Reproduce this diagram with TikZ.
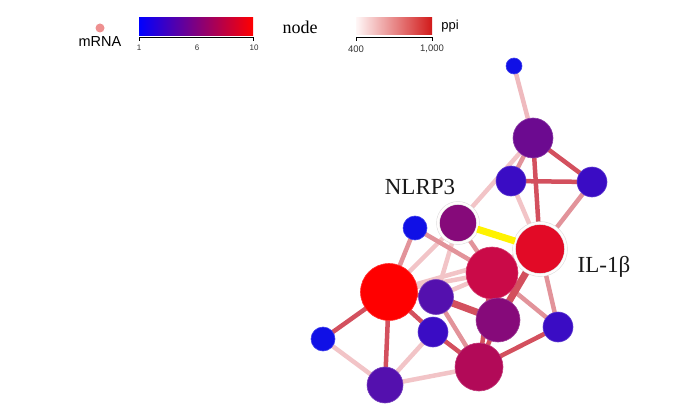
\documentclass[tikz,border=0pt]{standalone}
\usepackage{fontspec}
\setmainfont{Liberation Serif}
\setsansfont{Liberation Sans}
\usetikzlibrary{backgrounds}
\definecolor{eLight}{HTML}{F2C4C7}
\definecolor{eMid}{HTML}{E2939A}
\definecolor{eRed}{HTML}{D3505E}
\definecolor{eYel}{HTML}{FFF200}
\definecolor{cBlue}{HTML}{1010E6}
\definecolor{cBlueP}{HTML}{3A0CC4}
\definecolor{cIndigo}{HTML}{5410AE}
\definecolor{cPurple}{HTML}{6C0A90}
\definecolor{cPlum}{HTML}{860A7A}
\definecolor{cRaspb}{HTML}{B20A58}
\definecolor{cCrim}{HTML}{CA0A48}
\definecolor{cRedA}{HTML}{E20A26}
\definecolor{cRed}{HTML}{FF0000}
\definecolor{mrna}{HTML}{EE9090}
\tikzset{
  gn/.style={circle, inner sep=0pt, draw=#1!80!white, line width=0.6pt, fill=#1},
  halo/.style={double=white!96!pink, draw=black!15, double distance=2.4pt, line width=0.5pt},
  eL/.style={draw=eLight, line width=4.5pt},
  eM/.style={draw=eMid, line width=4.5pt},
  eR/.style={draw=eRed, line width=4.5pt},
  eT/.style={draw=eRed, line width=7pt},
  eY/.style={draw=eYel, line width=7pt},
  tick/.style={font=\sffamily\fontsize{8}{8}\selectfont, text=black!80},
  tickb/.style={font=\sffamily\fontsize{9.5}{9.5}\selectfont, text=black!80},
  lbl/.style={font=\fontsize{23}{23}\selectfont, text=black!90}
}
\begin{document}
\begin{tikzpicture}[x=1pt,y=-1pt]
\useasboundingbox (0,0) rectangle (674,417);

% legend
\node[circle, fill=mrna, inner sep=0pt, minimum size=9pt] (mdot) at (100,28) {};
\node[font=\sffamily\fontsize{14.5}{14.5}\selectfont] (mtxt) at (100,42) {mRNA};

\shade[left color=blue, right color=red] (139,18) rectangle (253,36);
\coordinate (na) at (139,37);
\coordinate (nb) at (253,37);
\draw[line width=0.8pt] (139,41) -- (na) -- (nb) -- (253,41);
\node[tick] (t1) at (139,48) {1};
\node[tick] (t6) at (197,48) {6};
\node[tick] (t10) at (254,48) {10};
\node[font=\fontsize{18}{18}\selectfont] (nodelbl) at (300,27) {node};

\shade[left color=red!3!white, right color=red!80!black!90] (356,18) rectangle (432,35);
\coordinate (pa) at (356,37);
\coordinate (pb) at (432,37);
\draw[line width=0.8pt] (356,41) -- (pa) -- (pb) -- (432,41);
\node[tickb] (t400) at (356,49) {400};
\node[tickb] (t1000) at (432,49) {1,000};
\node[font=\sffamily\fontsize{13}{13}\selectfont] (ppilbl) at (450,26) {ppi};

% network nodes
\node[gn=cBlue,   minimum size=16pt] (n1)  at (514,66)  {};
\node[gn=cPurple, minimum size=40pt] (n2)  at (533,138) {};
\node[gn=cBlueP,  minimum size=30pt] (n3)  at (511,181) {};
\node[gn=cBlueP,  minimum size=30pt] (n4)  at (592,182) {};
\node[gn=cPlum,   minimum size=40pt, halo] (n5)  at (458,223) {};
\node[gn=cBlue,   minimum size=24pt] (n6)  at (415,228) {};
\node[gn=cRedA,   minimum size=52pt, halo] (n7)  at (540,249) {};
\node[gn=cCrim,   minimum size=52pt] (n8)  at (492,273) {};
\node[gn=cRed,    minimum size=57pt] (n9)  at (389,292) {};
\node[gn=cIndigo, minimum size=35pt] (n10) at (436,297) {};
\node[gn=cPlum,   minimum size=44pt] (n11) at (498,320) {};
\node[gn=cBlueP,  minimum size=30pt] (n12) at (433,332) {};
\node[gn=cBlueP,  minimum size=30pt] (n13) at (558,327) {};
\node[gn=cBlue,   minimum size=24pt] (n14) at (323,339) {};
\node[gn=cRaspb,  minimum size=48pt] (n15) at (479,367) {};
\node[gn=cIndigo, minimum size=36pt] (n16) at (385,385) {};

\node[lbl] (lNLRP3) at (420,187) {NLRP3};
\node[lbl] (lIL) at (604,267) {IL-1β};

\begin{pgfonlayer}{background}
\draw[draw=eLight!80!eMid, line width=4.5pt] (n1.center) -- (n2.center);
\draw[eM] (n2.center) -- (n3.center);
\draw[eR] (n2.center) -- (n4.center);
\draw[eR] (n2.center) -- (n7.center);
\draw[eR] (n3.center) -- (n4.center);
\draw[eL] (n3.center) -- (n7.center);
\draw[eM] (n4.center) -- (n7.center);
\draw[eL] (n2.center) -- (n5.center);
\draw[eL] (n5.center) -- (n9.center);
\draw[eL] (n5.center) -- (n10.center);
\draw[eM] (n5.center) -- (n8.center);
\draw[eM] (n6.center) -- (n8.center);
\draw[eM] (n6.center) -- (n9.center);
\draw[eL] (n9.center) -- (n8.center);
\draw[eL] (n9.center) -- (n7.center);
\draw[eL] (n10.center) -- (n8.center);
\draw[eR] (n9.center) -- (n10.center);
\draw[eT] (n10.center) -- (n11.center);
\draw[eR] (n9.center) -- (n12.center);
\draw[eR] (n9.center) -- (n14.center);
\draw[eR] (n9.center) -- (n16.center);
\draw[eL] (n14.center) -- (n16.center);
\draw[eL] (n16.center) -- (n12.center);
\draw[eL] (n16.center) -- (n15.center);
\draw[eR] (n12.center) -- (n15.center);
\draw[eM] (n10.center) -- (n15.center);
\draw[eR] (n11.center) -- (n15.center);
\draw[eR] (n8.center) -- (n15.center);
\draw[eR] (n15.center) -- (n13.center);
\draw[eM] (n8.center) -- (n13.center);
\draw[eM] (n7.center) -- (n13.center);
\draw[eT] (n7.center) -- (n11.center);
\draw[eR] (n7.center) -- (n8.center);
\end{pgfonlayer}
\draw[eY] (n5) -- (n7);
\end{tikzpicture}
\end{document}
